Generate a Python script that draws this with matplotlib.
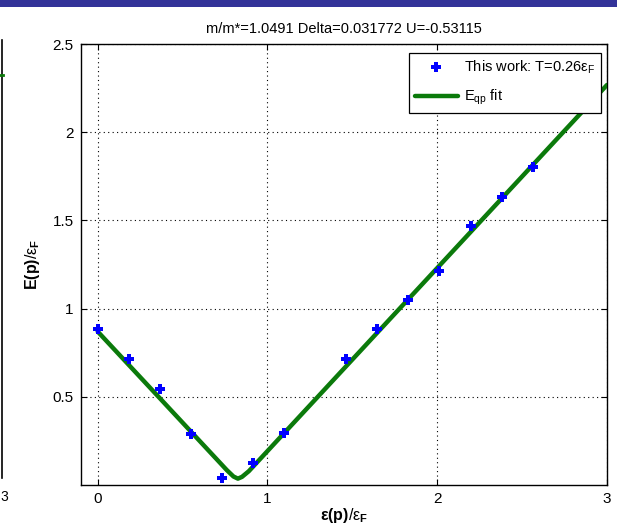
import matplotlib
matplotlib.use("Agg")
import matplotlib.pyplot as plt
from matplotlib.lines import Line2D
from matplotlib.patches import Rectangle

plt.rcParams["font.family"] = ["Liberation Sans", "DejaVu Sans"]
plt.rcParams["mathtext.fontset"] = "custom"
plt.rcParams["mathtext.rm"] = "Liberation Sans"
plt.rcParams["mathtext.it"] = "Liberation Sans"
plt.rcParams["mathtext.bf"] = "Liberation Sans:bold"

# data
eps = [0.0, 0.183, 0.366, 0.549, 0.732, 0.915, 1.098, 1.464, 1.647,
       1.830, 2.013, 2.196, 2.379, 2.562]
E = [0.883, 0.712, 0.544, 0.290, 0.040, 0.127, 0.293, 0.713, 0.884,
     1.050, 1.213, 1.470, 1.635, 1.804]

# fit curve, points
fit_eps = [0.0, 0.76, 0.80, 0.826, 0.85, 0.89, 3.0]
fit_E = [0.870, 0.085, 0.048, 0.036, 0.046, 0.078, 2.268]

title = "m/m*=1.0491 Delta=0.031772 U=-0.53115"
xticks = [0, 1, 2, 3]
yticks = [0.5, 1, 1.5, 2, 2.5]

green = "#0b7a0b"

fig = plt.figure(figsize=(6.17, 5.29), dpi=100)
ax = fig.add_axes([0.1308, 0.0832, 0.853, 0.8336])

ax.plot(fit_eps, fit_E, color=green, lw=3.2, solid_capstyle="round",
        solid_joinstyle="round", label=r"E$_{qp}$ fit", zorder=3)
ax.plot(eps, E, linestyle="none", marker="P", color="#0000ff", markersize=7.5,
        markeredgewidth=0, label=r"This work: T=0.26$\epsilon_F$", zorder=4)

ax.set_xlim(-0.1, 3)
ax.set_ylim(0, 2.5)
ax.set_xticks(xticks)
ax.set_xticklabels([str(t) for t in xticks])
ax.set_yticks(yticks)
ax.set_yticklabels(["0.5", "1", "1.5", "2", "2.5"])
ax.tick_params(direction="in", top=True, right=True, length=4, width=0.8,
               labelsize=11, pad=5)
ax.grid(True, color="black", linestyle=(0, (1, 3)), linewidth=0.8)
for s in ax.spines.values():
    s.set_linewidth(1.0)

ax.set_title(title, fontsize=10.5, pad=8)
ax.set_xlabel(r"$\mathbf{\epsilon(p)}$/$\epsilon_\mathbf{F}$", fontsize=11.5, labelpad=0)
ax.set_ylabel(r"$\mathbf{E(p)}$/$\epsilon_\mathbf{F}$", fontsize=11.5, labelpad=8)

h, l = ax.get_legend_handles_labels()
leg = ax.legend(h[::-1], l[::-1], loc="upper right", bbox_to_anchor=(0.9886, 0.9796),
                borderaxespad=0, fancybox=False, edgecolor="black", fontsize=10.5,
                handlelength=3.0, framealpha=1, borderpad=0.4, labelspacing=0.8,
                handletextpad=0.4)
leg.get_frame().set_linewidth(0.9)

# slide header bar and edge of the neighbouring figure
fig.add_artist(Rectangle((0, 1 - 7 / 529), 1, 7 / 529, transform=fig.transFigure,
                         color="#333399", lw=0))
fig.add_artist(Line2D([1.5 / 617, 1.5 / 617], [1 - 40 / 529, 1 - 478 / 529],
                      transform=fig.transFigure, color="black", lw=1.2))
fig.add_artist(Line2D([0, 3 / 617], [1 - 75 / 529, 1 - 75 / 529],
                      transform=fig.transFigure, color=green, lw=2))
fig.text(0.0, 1 - 497 / 529, "3", fontsize=10, va="center", ha="left")

fig.savefig("out.png", dpi=100)
